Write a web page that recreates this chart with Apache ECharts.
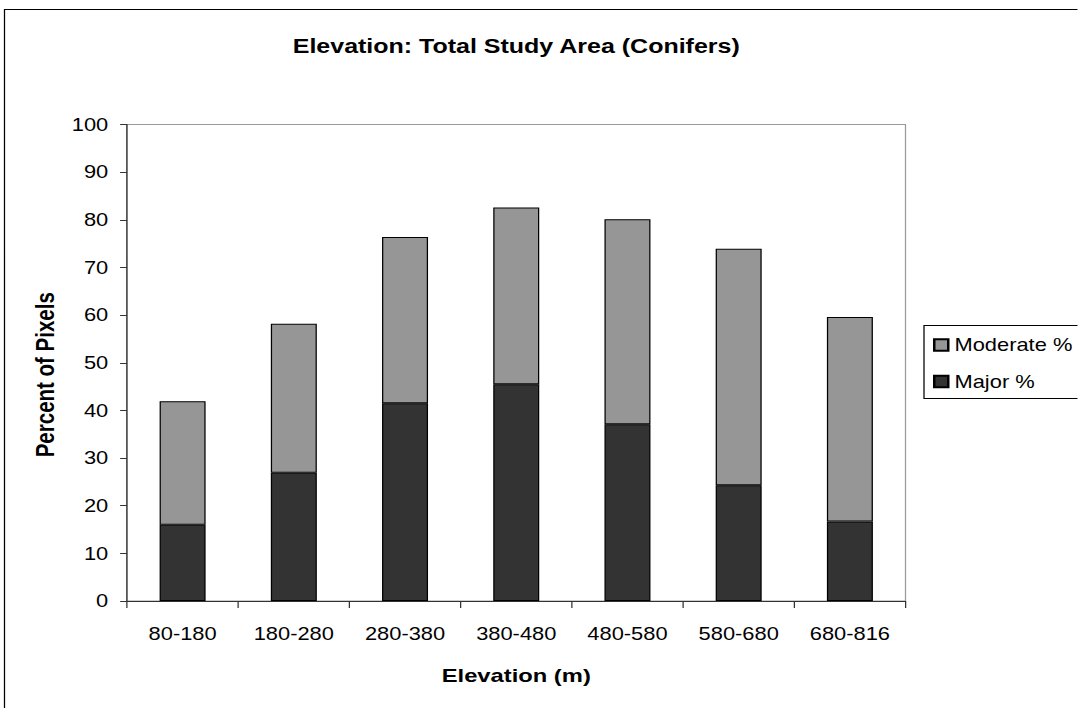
<!DOCTYPE html>
<html>
<head>
<meta charset="utf-8">
<script src="https://cdn.jsdelivr.net/npm/echarts@6/dist/echarts.min.js"></script>
<style>
  html, body { margin: 0; padding: 0; background: #fff; overflow: hidden; }
  /* The chart is laid out on a narrower box and widened horizontally,
     giving the broad lettering of the original worksheet export. */
  #chart {
    width: 862.4px;
    height: 708px;
    transform: scaleX(1.25);
    transform-origin: 0 0;
  }
</style>
</head>
<body>
<div id="chart"></div>
<script>
// Elevation bands (m)
const categories = ['80-180', '180-280', '280-380', '380-480', '480-580', '580-680', '680-816'];
// Percent of pixels in each band, stacked: major first, moderate on top
const majorPct = [16.0, 26.9, 41.5, 45.5, 37.1, 24.3, 16.7];
const moderatePct = [25.9, 31.3, 34.9, 37.1, 43.0, 49.6, 42.9];
const yTicks = { min: 0, max: 100, interval: 10 };

const FONT = '"Liberation Sans", Arial, sans-serif';

const chart = echarts.init(document.getElementById('chart'), null, { renderer: 'svg' });

chart.setOption({
  backgroundColor: '#ffffff',
  animation: false,
  textStyle: { fontFamily: FONT },
  title: {
    text: 'Elevation: Total Study Area (Conifers)',
    left: 408,
    top: 31,
    textAlign: 'center',
    textStyle: { fontFamily: FONT, fontSize: 20, fontWeight: 'bold', color: '#000' }
  },
  graphic: [
    {
      type: 'rect',
      shape: { x: 3.6, y: 9.5, width: 900, height: 720 },
      style: { fill: 'none', stroke: '#000', lineWidth: 1 },
      silent: true,
      z: -1
    },
    {
      type: 'rect',
      shape: { x: 739.2, y: 325.5, width: 200, height: 73 },
      style: { fill: '#fff', stroke: '#000', lineWidth: 1 },
      silent: true,
      z: 0
    }
  ],
  legend: {
    data: ['Moderate %', 'Major %'],
    orient: 'vertical',
    left: 746.4,
    top: 336,
    padding: 0,
    itemWidth: 11.2,
    itemHeight: 11.7,
    itemGap: 18.5,
    textStyle: { fontFamily: FONT, fontSize: 17.5, color: '#000', padding: [0, 0, 0, 0] },
    icon: 'rect',
    z: 5
  },
  grid: {
    left: 101.6,
    right: 137.6,
    top: 124.5,
    bottom: 107,
    show: true,
    borderColor: '#999',
    borderWidth: 1,
    containLabel: false
  },
  xAxis: {
    type: 'category',
    data: categories,
    name: 'Elevation (m)',
    nameLocation: 'middle',
    nameGap: 65,
    nameTextStyle: { fontFamily: FONT, fontSize: 19, fontWeight: 'bold', color: '#000' },
    axisLine: { show: true, lineStyle: { color: '#333', width: 1 } },
    axisTick: { show: true, alignWithLabel: false, length: 7, lineStyle: { color: '#333' } },
    axisLabel: { fontFamily: FONT, fontSize: 17.5, color: '#000', margin: 24 },
    splitLine: { show: false }
  },
  yAxis: {
    type: 'value',
    min: yTicks.min,
    max: yTicks.max,
    interval: yTicks.interval,
    name: 'Percent of Pixels',
    nameLocation: 'middle',
    nameGap: 54,
    nameRotate: 90,
    nameTextStyle: { fontFamily: FONT, fontSize: 20.5, fontWeight: 'bold', color: '#000', padding: [0, 0, 0, -24] },
    axisLine: { show: true, lineStyle: { color: '#333', width: 1 } },
    axisTick: { show: true, inside: false, length: 5.5, lineStyle: { color: '#333' } },
    axisLabel: { fontFamily: FONT, fontSize: 17.5, color: '#000', margin: 15 },
    splitLine: { show: false }
  },
  series: [
    {
      name: 'Major %',
      type: 'bar',
      stack: 'total',
      data: majorPct,
      barWidth: 36.8,
      itemStyle: { color: '#333333', borderColor: '#000', borderWidth: 1 }
    },
    {
      name: 'Moderate %',
      type: 'bar',
      stack: 'total',
      data: moderatePct,
      barWidth: 36.8,
      itemStyle: { color: '#969696', borderColor: '#000', borderWidth: 1 }
    }
  ]
});
</script>
</body>
</html>
